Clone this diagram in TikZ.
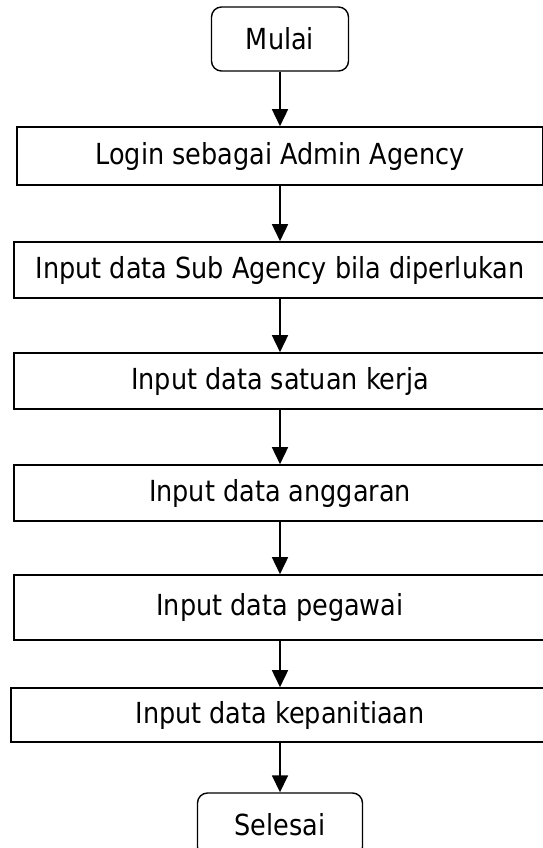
\documentclass[tikz,border=0pt]{standalone}
\usepackage{fontspec}
\setmainfont{DejaVu Sans}[FakeStretch=0.88]
\usetikzlibrary{arrows.meta}
\begin{document}
\begin{tikzpicture}[x=1pt,y=-1pt,
  font=\fontsize{29}{34}\selectfont,
  stepbox/.style={draw,line width=1.6pt,rectangle,minimum width=532pt,minimum height=56pt,inner sep=0pt},
  termbox/.style={draw,line width=1.4pt,rounded corners=10pt,minimum width=137pt,minimum height=64pt,inner sep=0pt},
  flow/.style={line width=1.6pt,-{Triangle[length=17pt,width=16pt]}}]
\useasboundingbox (0,0) rectangle (542,848);
\node[termbox] (mulai) at (280,39) {Mulai};
\node[stepbox,minimum width=526pt,minimum height=58pt] (login) at (280,156) {Login sebagai Admin Agency};
\node[stepbox] (sub) at (280,270) {Input data Sub Agency bila diperlukan};
\node[stepbox] (satker) at (280,381) {Input data satuan kerja};
\node[stepbox] (anggaran) at (280,493) {Input data anggaran};
\node[stepbox,minimum height=65pt] (pegawai) at (280,607.5) {Input data pegawai};
\node[stepbox,minimum height=54pt,minimum width=538pt] (panitia) at (280,715) {Input data kepanitiaan};
\node[termbox,minimum width=165pt] (selesai) at (280,825) {Selesai};
\draw[flow] (mulai) -- (login);
\draw[flow] (login) -- (sub);
\draw[flow] (sub) -- (satker);
\draw[flow] (satker) -- (anggaran);
\draw[flow] (anggaran) -- (pegawai);
\draw[flow] (pegawai) -- (panitia);
\draw[flow] (panitia) -- (selesai);
\end{tikzpicture}
\end{document}
